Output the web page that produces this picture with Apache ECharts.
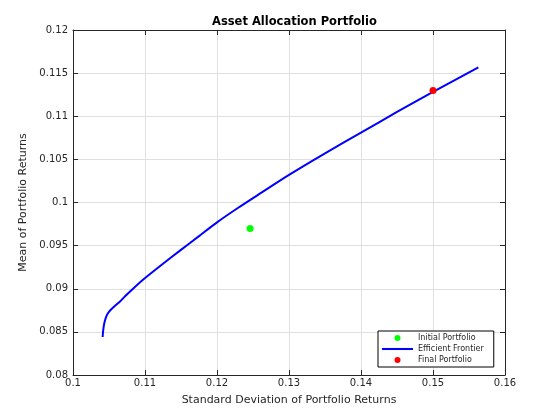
<!DOCTYPE html>
<html>
<head>
<meta charset="utf-8">
<script src="https://cdn.jsdelivr.net/npm/echarts@6/dist/echarts.min.js"></script>
<style>html,body{margin:0;padding:0;background:#fff;}#c{width:560px;height:420px;}</style>
</head>
<body>
<div id="c"></div>
<script>
// Efficient frontier (risk, return)
const frontierRisk   = [0.10412, 0.10416, 0.10422, 0.10432, 0.10445, 0.10462, 0.10485, 0.10515, 0.10580, 0.10653, 0.10730, 0.10815, 0.10980, 0.11250, 0.11490, 0.11750, 0.12000, 0.12300, 0.12600, 0.13000, 0.13500, 0.14000, 0.14500, 0.15000, 0.15630];
const frontierReturn = [0.08440, 0.08490, 0.08535, 0.08590, 0.08635, 0.08678, 0.08715, 0.08748, 0.08800, 0.08852, 0.08918, 0.08986, 0.09110, 0.09290, 0.09445, 0.09610, 0.09770, 0.09942, 0.10105, 0.10320, 0.10570, 0.10810, 0.11050, 0.11283, 0.11567];
const initialPortfolio = [0.1246, 0.0970];
const finalPortfolio   = [0.1500, 0.1130];
const seriesNames = ['Initial Portfolio', 'Efficient Frontier', 'Final Portfolio'];
const xTicks = {min: 0.1, max: 0.16, step: 0.01};
const yTicks = {min: 0.08, max: 0.12, step: 0.005};

const font = 'DejaVu Sans';
const axisColor = '#262626';
const frontierData = frontierRisk.map((r, i) => [r, frontierReturn[i]]);

const chart = echarts.init(document.getElementById('c'), null, {renderer: 'canvas'});
const baseAxis = {
  axisLine: {show: true, onZero: false, lineStyle: {color: axisColor, width: 1}},
  axisTick: {show: true, inside: true, length: 5, lineStyle: {color: axisColor}},
  splitLine: {show: false},
};
chart.setOption({
  animation: false,
  backgroundColor: '#fff',
  title: {
    text: 'Asset Allocation Portfolio', left: 207, top: 11,
    textStyle: {fontFamily: font, fontSize: 11.5, fontWeight: 'bold', color: '#000'}
  },
  grid: {left: 73, right: 55, top: 30, bottom: 45},
  xAxis: [
    Object.assign({}, baseAxis, {
      type: 'value', min: xTicks.min, max: xTicks.max, interval: xTicks.step, position: 'bottom',
      name: 'Standard Deviation of Portfolio Returns', nameLocation: 'middle', nameGap: 20,
      nameTextStyle: {fontFamily: font, fontSize: 11, color: axisColor},
      axisLabel: {fontFamily: font, fontSize: 10, color: axisColor, margin: 3},
      splitLine: {show: true, lineStyle: {color: '#dfdfdf', width: 1}}
    }),
    Object.assign({}, baseAxis, {
      type: 'value', min: xTicks.min, max: xTicks.max, interval: xTicks.step, position: 'top',
      axisLabel: {show: false}
    })
  ],
  yAxis: [
    Object.assign({}, baseAxis, {
      type: 'value', min: yTicks.min, max: yTicks.max, interval: yTicks.step, position: 'left',
      name: 'Mean of Portfolio Returns', nameLocation: 'middle', nameGap: 36,
      nameTextStyle: {fontFamily: font, fontSize: 11, color: axisColor},
      axisLabel: {fontFamily: font, fontSize: 10, color: axisColor, margin: 5},
      splitLine: {show: true, lineStyle: {color: '#dfdfdf', width: 1}}
    }),
    Object.assign({}, baseAxis, {
      type: 'value', min: yTicks.min, max: yTicks.max, interval: yTicks.step, position: 'right',
      axisLabel: {show: false}
    })
  ],
  legend: {
    left: 378, top: 331, orient: 'vertical',
    backgroundColor: '#fff', borderColor: '#000', borderWidth: 1,
    padding: [3, 10, 3, 4], itemGap: 3, itemWidth: 31, itemHeight: 6,
    textStyle: {fontFamily: font, fontSize: 8, color: '#262626'},
    data: [
      {name: seriesNames[0], icon: 'circle'},
      {name: seriesNames[1], icon: 'path://M0,0L30,0L30,2L0,2Z'},
      {name: seriesNames[2], icon: 'circle'}
    ]
  },
  series: [
    {
      name: seriesNames[0], type: 'scatter', data: [initialPortfolio],
      symbol: 'circle', symbolSize: 7, itemStyle: {color: '#00ff00', opacity: 1}, z: 3
    },
    {
      name: seriesNames[1], type: 'line', data: frontierData, smooth: 0.25,
      showSymbol: false, symbol: 'none', lineStyle: {color: '#0000ff', width: 2}, itemStyle: {color: '#0000ff'}, z: 2
    },
    {
      name: seriesNames[2], type: 'scatter', data: [finalPortfolio],
      symbol: 'circle', symbolSize: 7, itemStyle: {color: '#ff0000', opacity: 1}, z: 3
    }
  ]
});
</script>
</body>
</html>
